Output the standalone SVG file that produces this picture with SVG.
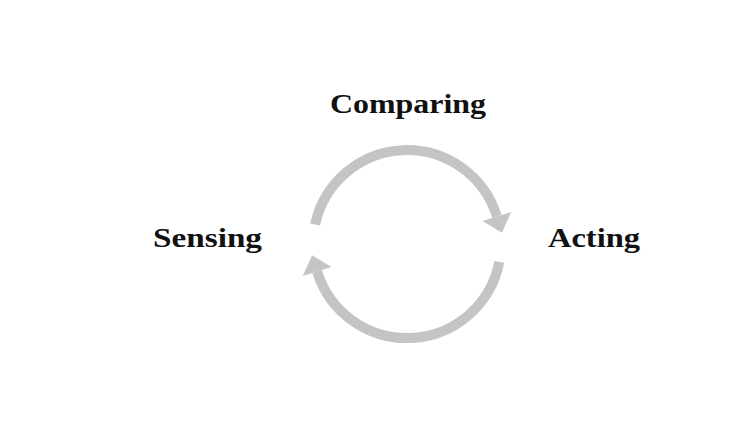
<svg xmlns="http://www.w3.org/2000/svg" width="754" height="430" viewBox="0 0 754 430">
  <style>
    .lbl { font-family: "Liberation Serif", "Times New Roman", serif; font-weight: bold; font-size: 28px; fill: #111111; }
    .arc { fill: none; stroke: #c4c4c4; stroke-width: 10; stroke-linecap: butt; }
  </style>
  <defs>
    <marker id="head" markerUnits="userSpaceOnUse" markerWidth="40" markerHeight="40" refX="0" refY="0" orient="auto" overflow="visible" viewBox="-20 -20 40 40">
      <path d="M0,-15 L17,0 L0,15 Z" fill="#c4c4c4"/>
    </marker>
  </defs>
  <rect width="754" height="430" fill="#ffffff"/>
  <g id="connectors">
    <path id="arc-compare-act" class="arc" d="M315.1,224.5 A94,94 0 0 1 496.9,216.5" marker-end="url(#head)"/>
    <path id="arc-act-sense" class="arc" d="M499.3,261.9 A94,94 0 0 1 317.1,271.5" marker-end="url(#head)"/>
  </g>
  <g id="node-comparing">
    <text class="lbl" x="330" y="113" textLength="156" lengthAdjust="spacingAndGlyphs">Comparing</text>
  </g>
  <g id="node-sensing">
    <text class="lbl" x="153" y="247" textLength="109" lengthAdjust="spacingAndGlyphs">Sensing</text>
  </g>
  <g id="node-acting">
    <text class="lbl" x="548" y="247" textLength="92" lengthAdjust="spacingAndGlyphs">Acting</text>
  </g>
</svg>
